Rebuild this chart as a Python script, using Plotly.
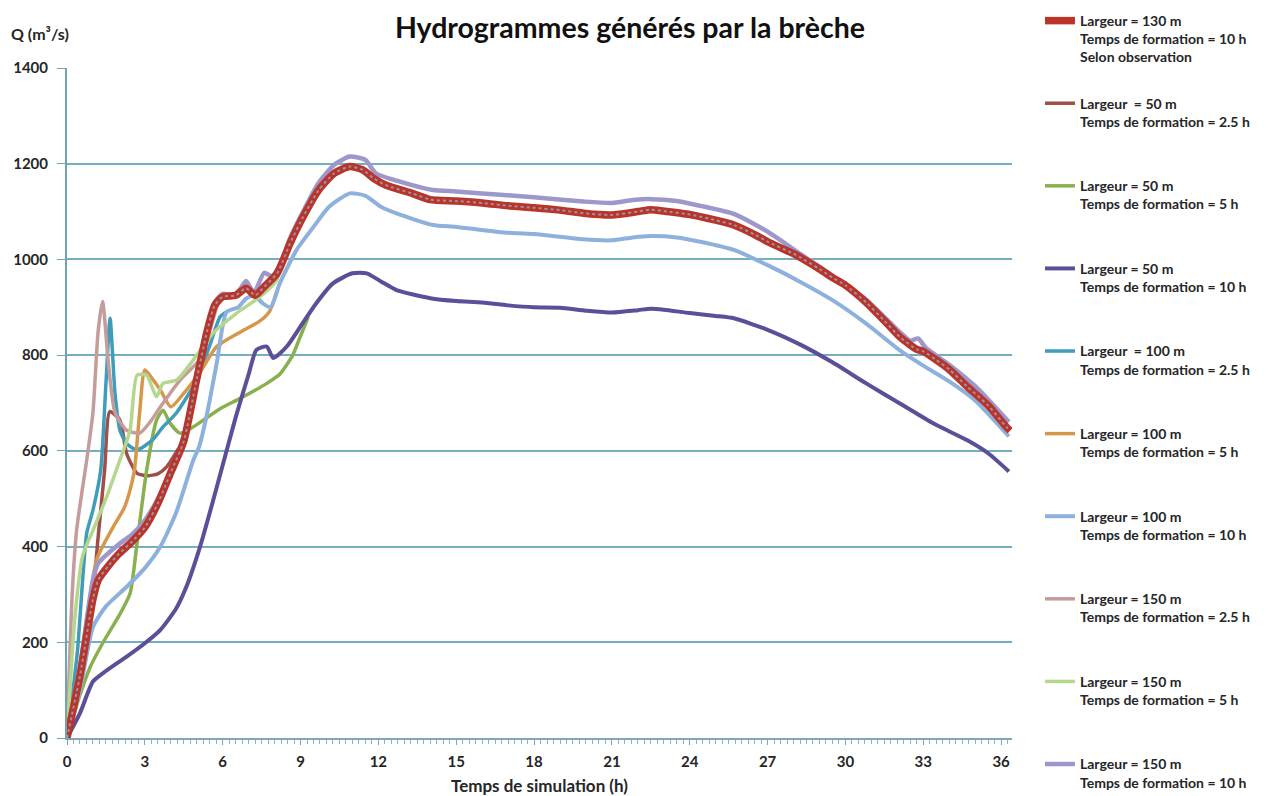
import plotly.graph_objects as go

# Hydrogrammes de brèche : débit Q (m³/s) en fonction du temps de simulation (h)

# Observation : largeur 130 m, temps de formation 10 h
T_OBS = [0, 0.5, 1.0, 1.2, 1.6, 2.0, 2.5, 3.0, 3.5, 4.0, 4.5, 5.0, 5.4, 5.7, 6.0, 6.5, 6.9, 7.25,
         7.6, 8.1, 8.6, 9.1, 9.7, 10.3, 10.9, 11.4, 11.8, 12.3, 13.3, 14.0, 15, 16, 17, 18, 19, 20,
         21, 22, 22.5, 23, 24, 25, 25.7, 26.5, 27, 28, 28.3, 29, 29.5, 30, 30.8, 31.5, 32.1, 32.75,
         33, 33.5, 34, 34.7, 35.5, 36.2, 36.35]
Q_OBS = [0, 130, 290, 330, 360, 385, 410, 440, 490, 555, 620, 750, 850, 905, 922, 925, 940, 925,
         943, 971, 1034, 1089, 1145, 1180, 1194, 1187, 1170, 1155, 1138, 1125, 1122, 1118, 1112,
         1108, 1103, 1096, 1093, 1100, 1104, 1101, 1094, 1082, 1072, 1052, 1037, 1012, 1003, 980,
         962, 946, 910, 872, 838, 812, 808, 790, 770, 734, 695, 650, 642]

# Largeur 50 m, formation 2.5 h
T_L50_F25 = [0, 0.5, 1.0, 1.2, 1.45, 1.65, 2.04, 2.3, 2.7, 3.1, 3.5, 3.85, 4.3]
Q_L50_F25 = [0, 110, 300, 420, 560, 682, 664, 594, 553, 548, 552, 567, 605]

# Largeur 50 m, formation 5 h
T_L50_F5 = [0, 0.5, 0.9, 1.5, 2.0, 2.43, 2.7, 3.07, 3.45, 3.7, 3.97, 4.36, 4.8, 5.25, 5.9, 6.54,
            7.2, 7.7, 8.2, 8.7, 9.0, 9.3]
Q_L50_F5 = [0, 90, 149, 210, 255, 302, 407, 560, 664, 685, 658, 637, 648, 664, 688, 706,
            725, 741, 760, 800, 840, 880]

# Largeur 50 m, formation 10 h
T_L50_F10 = [0, 0.5, 1.0, 1.5, 2.3, 3.0, 3.6, 4.2, 4.6, 5.13, 5.6, 6.0, 6.5, 7.0, 7.3, 7.7, 7.95,
             8.47, 9.0, 9.6, 10.25, 11.0, 11.55, 12.1, 12.7, 14, 15, 16, 17, 18, 19, 20, 21, 22,
             22.5, 23, 24, 25, 25.7, 27, 28.3, 29.5, 30.8, 32.1, 33.4, 34.7, 35.5, 36.3]
Q_L50_F10 = [0, 52, 118, 140, 170, 198, 226, 270, 316, 400, 490, 570, 670, 760, 811, 818, 794,
             818, 860, 908, 950, 971, 971, 954, 936, 919, 913, 910, 904, 900, 899, 893, 889, 894,
             897, 895, 888, 882, 877, 853, 821, 785, 741, 699, 657, 622, 595, 557]

# Largeur 100 m, formation 2.5 h
T_L100_F25 = [0, 0.4, 0.76, 1.0, 1.3, 1.5, 1.66, 1.85, 2.04, 2.3, 2.7, 3.3, 3.7, 4.2, 5.0, 5.5,
              5.9, 6.15]
Q_L100_F25 = [0, 180, 428, 476, 560, 740, 877, 720, 643, 615, 602, 623, 650, 678, 748, 820,
              880, 890]

# Largeur 100 m, formation 5 h
T_L100_F5 = [0, 0.5, 1.14, 1.78, 2.2, 2.43, 2.6, 2.8, 3.0, 3.3, 3.6, 4.0, 4.6, 5.1, 5.77, 6.8,
             7.4, 7.8, 8.1]
Q_L100_F5 = [0, 150, 372, 441, 480, 518, 560, 680, 769, 750, 727, 692, 727, 762, 818, 852,
             870, 891, 935]

# Largeur 100 m, formation 10 h
T_L100_F10 = [0, 0.5, 1.0, 1.5, 2.3, 3.0, 3.6, 4.2, 4.87, 5.1, 5.4, 5.77, 6.15, 6.6, 6.9, 7.2,
              7.55, 7.85, 8.2, 8.85, 9.5, 10.1, 10.9, 11.5, 12.1, 12.7, 14.1, 15, 16.7, 18, 19.9,
              21, 21.8, 22.5, 23.5, 24.4, 25.7, 27, 28.3, 29.5, 30.8, 32.1, 33, 34, 35, 36.3]
Q_L100_F10 = [0, 100, 232, 275, 316, 355, 400, 470, 581, 610, 678, 783, 890, 900, 918, 925,
              908, 900, 950, 1020, 1068, 1110, 1138, 1133, 1110, 1096, 1072, 1068, 1057, 1053,
              1042, 1040, 1046, 1049, 1046, 1037, 1020, 988, 952, 915, 866, 810, 778, 745, 705,
              630]

# Largeur 150 m, formation 2.5 h
T_L150_F25 = [0, 0.2, 0.37, 0.76, 1.0, 1.2, 1.37, 1.6, 1.85, 2.3, 2.8, 3.2, 3.6, 4.36, 5.1,
              5.5, 5.8, 6.0]
Q_L150_F25 = [0, 300, 434, 581, 680, 850, 912, 780, 680, 643, 637, 660, 692, 748, 790,
              850, 905, 922]

# Largeur 150 m, formation 5 h
T_L150_F5 = [0, 0.3, 0.6, 1.0, 1.5, 2.04, 2.43, 2.7, 3.07, 3.45, 3.7, 4.23, 4.87, 5.63, 6.54,
             7.44, 8.08, 8.3]
Q_L150_F5 = [0, 250, 380, 434, 500, 581, 643, 758, 758, 713, 741, 748, 790, 846, 888,
             922, 957, 1000]

# Largeur 150 m, formation 10 h
T_L150_F10 = [0, 0.5, 1.0, 1.2, 2.0, 2.5, 3.0, 3.5, 4.0, 4.5, 5.0, 5.4, 5.7, 6.0, 6.5, 6.9, 7.2,
              7.6, 7.9, 8.3, 8.6, 9.1, 9.7, 10.3, 10.9, 11.5, 11.9, 12.8, 14.1, 15, 16.7, 18,
              19.9, 21, 21.8, 22.5, 23.5, 24.4, 25.7, 27, 28.3, 29.5, 30.8, 32.1, 32.5, 32.8,
              33.1, 34, 35, 36.3]
Q_L150_F10 = [0, 150, 330, 365, 405, 425, 455, 500, 560, 630, 740, 850, 910, 928, 925, 955, 930,
              972, 965, 1000, 1045, 1100, 1160, 1198, 1215, 1208, 1180, 1163, 1145, 1142, 1135,
              1130, 1121, 1118, 1124, 1126, 1122, 1112, 1095, 1058, 1010, 966, 916, 848, 830,
              835, 815, 780, 735, 660]

NB = "\u00a0"
SERIES = [
    # (name, t, q, colour, width, legend rank)
    (f"Largeur{NB}{NB}={NB}50{NB}m<br>Temps de formation = 2.5 h<br>{NB}",
     T_L50_F25, Q_L50_F25, "#A04E49", 3.5, 2),
    (f"Largeur = 50 m<br>Temps de formation = 5 h<br>{NB}",
     T_L50_F5, Q_L50_F5, "#89B04E", 3.5, 3),
    (f"Largeur = 50 m<br>Temps de formation = 10 h<br>{NB}",
     T_L50_F10, Q_L50_F10, "#5B4F9A", 4, 4),
    (f"Largeur{NB}{NB}={NB}100{NB}m<br>Temps de formation = 2.5 h<br>{NB}",
     T_L100_F25, Q_L100_F25, "#3F9DBB", 3.5, 5),
    (f"Largeur = 100 m<br>Temps de formation = 5 h<br>{NB}",
     T_L100_F5, Q_L100_F5, "#D6974B", 3.5, 6),
    (f"Largeur = 100 m<br>Temps de formation = 10 h<br>{NB}",
     T_L100_F10, Q_L100_F10, "#8DB1DC", 4, 7),
    (f"Largeur = 150 m<br>Temps de formation = 2.5 h<br>{NB}",
     T_L150_F25, Q_L150_F25, "#C49C9B", 3.5, 8),
    (f"Largeur = 150 m<br>Temps de formation = 5 h<br>{NB}",
     T_L150_F5, Q_L150_F5, "#B5D68D", 3.5, 9),
    ("Largeur = 150 m<br>Temps de formation = 10 h",
     T_L150_F10, Q_L150_F10, "#9C98CC", 4.5, 10),
]

FONT = "Lato"
TXT = "#262626"

fig = go.Figure()

for name, t, q, col, w, rank in SERIES:
    fig.add_trace(go.Scatter(
        x=t, y=q, mode="lines", name=name,
        line=dict(color=col, width=w, shape="spline", smoothing=0.6),
        legendgroup=name, legendrank=rank,
    ))

# observed breach, drawn on top: thick red line with a dotted core
fig.add_trace(go.Scatter(
    x=T_OBS, y=Q_OBS, mode="lines",
    name="Largeur = 130 m<br>Temps de formation = 10 h<br>Selon observation",
    line=dict(color="#BA3529", width=7.5, shape="spline", smoothing=0.6),
    legendgroup="obs", legendrank=1,
))
fig.add_trace(go.Scatter(
    x=T_OBS, y=Q_OBS, mode="lines", showlegend=False,
    line=dict(color="#9694B0", width=2, dash="dot", shape="spline", smoothing=0.6),
    hoverinfo="skip",
))

fig.update_layout(
    width=1265, height=796,
    margin=dict(l=67, r=253, t=68, b=58, autoexpand=False),
    paper_bgcolor="white", plot_bgcolor="white",
    font=dict(family=FONT, color=TXT),
    title=dict(
        text="Hydrogrammes générés par la brèche",
        x=0.498, xanchor="center", y=0.965, yanchor="middle",
        font=dict(family=FONT, size=28.5, color="#111111", weight="bold"),
    ),
    legend=dict(
        x=1.0296, xanchor="left", y=1.094, yanchor="top",
        valign="top", tracegroupgap=25, maxheight=900,
        font=dict(family=FONT, size=14, color=TXT, weight="bold"),
        bgcolor="rgba(0,0,0,0)",
    ),
    showlegend=True,
)

fig.update_xaxes(
    range=[0, 36.42], tickvals=list(range(0, 37, 3)),
    showgrid=False, zeroline=False,
    showline=True, linecolor="#7FA6B4", linewidth=2,
    ticks="outside", ticklen=5, tickcolor="#7FA6B4",
    minor=dict(dtick=0.25, ticks="outside", ticklen=4, tickcolor="#8FB3C0"),
    ticklabelstandoff=4,
    tickfont=dict(family=FONT, size=15, color=TXT, weight="bold"),
    title=dict(text="Temps de simulation (h)", standoff=14,
               font=dict(family=FONT, size=17, color=TXT, weight="bold")),
)
fig.update_yaxes(
    range=[0, 1400], dtick=200,
    showgrid=True, gridcolor="#74AEC0", gridwidth=1.6, zeroline=False,
    showline=True, linecolor="#6FA4B5", linewidth=2,
    ticks="outside", ticklen=8, tickcolor="#6FA4B5",
    ticklabelstandoff=6,
    tickfont=dict(family=FONT, size=15, color=TXT, weight="bold"),
)

fig.add_annotation(
    text="Q (m³/s)", xref="paper", yref="paper",
    x=-0.061, y=1.052, xanchor="left", yanchor="middle", showarrow=False,
    font=dict(family=FONT, size=16, color=TXT, weight="bold"),
)

fig.write_html("out.html")
